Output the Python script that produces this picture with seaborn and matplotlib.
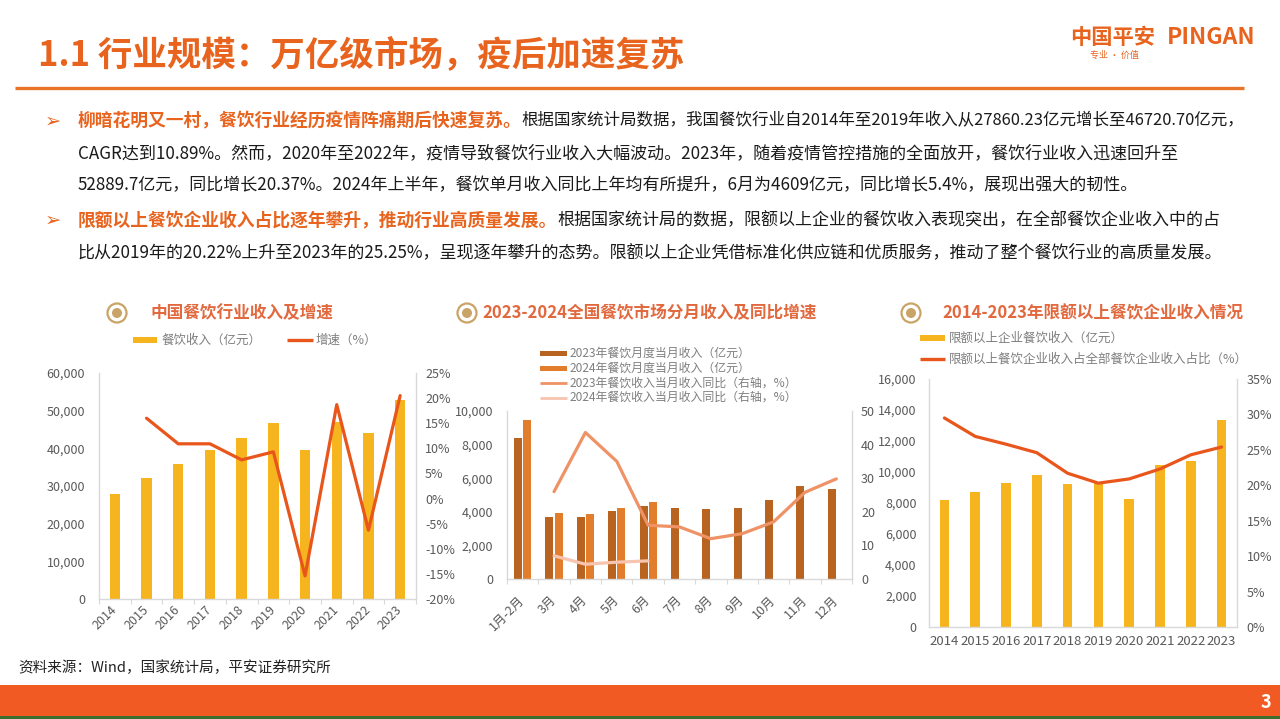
import numpy as np
import pandas as pd
import matplotlib
matplotlib.use('Agg')
import matplotlib.pyplot as plt
import seaborn as sns
from matplotlib.patches import Circle, Rectangle
from matplotlib.ticker import FuncFormatter, MultipleLocator

sns.set_theme(style='white')
plt.rcParams['font.family'] = ['Noto Sans CJK SC', 'DejaVu Sans']
plt.rcParams['axes.unicode_minus'] = False

# ---------------- data ----------------
years = ['2014', '2015', '2016', '2017', '2018', '2019', '2020', '2021', '2022', '2023']
revenue = [27860, 32124, 35799, 39644, 42716, 46721, 39527, 46895, 43941, 52890]
growth = [np.nan, 16.0, 10.9, 10.9, 7.7, 9.3, -15.4, 18.7, -6.3, 20.5]

months = ['1月-2月', '3月', '4月', '5月', '6月', '7月', '8月', '9月', '10月', '11月', '12月']
rev_2023 = [8417, 3673, 3720, 4024, 4372, 4229, 4183, 4235, 4732, 5556, 5350]
rev_2024 = [9457, 3924, 3889, 4222, 4609, np.nan, np.nan, np.nan, np.nan, np.nan, np.nan]
yoy_2023 = [np.nan, 26.0, 43.6, 35.0, 16.0, 15.5, 12.0, 13.5, 17.0, 25.8, 29.8]
yoy_2024 = [np.nan, 6.9, 4.4, 5.0, 5.4, np.nan, np.nan, np.nan, np.nan, np.nan, np.nan]

above_rev = [8215, 8688, 9269, 9785, 9247, 9350, 8258, 10430, 10688, 13376]
above_share = [29.5, 26.9, 25.8, 24.6, 21.7, 20.3, 20.9, 22.3, 24.3, 25.4]

# ---------------- style ----------------
W, H = 1280, 719
ORANGE = '#E8641E'
GOLD = '#F6B41E'
LINE_RED = '#E8561C'
C23 = '#B8631F'
C24 = '#E27D2C'
L23 = '#EF9266'
L24 = '#F7C4B0'
TITLE_C = '#E2683E'
ICON_C = '#C9A466'
GRID_C = '#D9D9D9'
TICK_C = '#595959'
LEG_C = '#7F7F7F'

fig = plt.figure(figsize=(W / 100, H / 100), dpi=100, facecolor='white')
bg = fig.add_axes([0, 0, 1, 1])
bg.set_xlim(0, W)
bg.set_ylim(H, 0)
bg.axis('off')
renderer = fig.canvas.get_renderer()


def rect(x0, y0, x1, y1):
    return [x0 / W, 1 - y1 / H, (x1 - x0) / W, (y1 - y0) / H]


# ---------------- header ----------------
bg.text(38, 55, '1.1 行业规模：万亿级市场，疫后加速复苏', fontsize=24.8, fontweight='bold',
        color=ORANGE, ha='left', va='center')
bg.plot([15, 1244], [88, 88], color='#E8742A', lw=2.4, solid_capstyle='butt')
bg.text(1070, 37, '中国平安', fontsize=15.3, fontweight='bold', color=ORANGE,
        ha='left', va='center')
bg.text(1167, 37, 'PINGAN', fontsize=16.5, fontweight='bold', color=ORANGE,
        ha='left', va='center')
bg.text(1090, 55, '专业 · 价值', fontsize=6.5, color=ORANGE, ha='left', va='center')

# ---------------- body text ----------------
BLACK = '#1A1A1A'


def rich_line(y, parts, x=78):
    cur = x
    for s, color, weight, size in parts:
        t = bg.text(cur, y, s, ha='left', va='center', fontsize=size, color=color,
                    fontweight=weight)
        bb = t.get_window_extent(renderer=renderer)
        cur = bg.transData.inverted().transform((bb.x1, bb.y0))[0]


OS, BS = 12.8, 12.25
bg.text(45, 121, '➢', fontsize=14, color=ORANGE, ha='left', va='center')
rich_line(121, [('柳暗花明又一村，餐饮行业经历疫情阵痛期后快速复苏。', ORANGE, 'bold', OS),
                ('根据国家统计局数据，我国餐饮行业自2014年至2019年收入从27860.23亿元增长至46720.70亿元，', BLACK, 'normal', 11.9)])
rich_line(153, [('CAGR达到10.89%。然而，2020年至2022年，疫情导致餐饮行业收入大幅波动。2023年，随着疫情管控措施的全面放开，餐饮行业收入迅速回升至', BLACK, 'normal', BS)])
rich_line(185, [('52889.7亿元，同比增长20.37%。2024年上半年，餐饮单月收入同比上年均有所提升，6月为4609亿元，同比增长5.4%，展现出强大的韧性。', BLACK, 'normal', BS)])
bg.text(45, 220, '➢', fontsize=14, color=ORANGE, ha='left', va='center')
rich_line(220, [('限额以上餐饮企业收入占比逐年攀升，推动行业高质量发展。', ORANGE, 'bold', OS),
                ('根据国家统计局的数据，限额以上企业的餐饮收入表现突出，在全部餐饮企业收入中的占', BLACK, 'normal', BS)])
rich_line(252, [('比从2019年的20.22%上升至2023年的25.25%，呈现逐年攀升的态势。限额以上企业凭借标准化供应链和优质服务，推动了整个餐饮行业的高质量发展。', BLACK, 'normal', BS)])


# ---------------- helpers ----------------
def chart_title(cx, tx, text):
    bg.add_patch(Circle((cx, 313), 9.5, facecolor='white', edgecolor=ICON_C, lw=1.6))
    bg.add_patch(Circle((cx, 313), 5.0, facecolor=ICON_C, edgecolor='none'))
    bg.text(tx, 313, text, fontsize=12, fontweight='bold', color=TITLE_C, ha='left', va='center')


def leg_bar(x0, x1, y, color, h=5.5):
    bg.add_patch(Rectangle((x0, y - h / 2), x1 - x0, h, facecolor=color, edgecolor='none'))


def leg_line(x0, x1, y, color, lw=2.2):
    bg.plot([x0, x1], [y, y], color=color, lw=lw, solid_capstyle='butt')


def leg_text(x, y, s, size=9):
    bg.text(x, y, s, fontsize=size, color=LEG_C, ha='left', va='center')


def style_axes(ax, ax2, n, lpad, rpad):
    ax.set_facecolor('none')
    for side in ['left', 'bottom', 'right']:
        ax.spines[side].set_visible(True)
        ax.spines[side].set_color(GRID_C)
        ax.spines[side].set_linewidth(1.0)
    ax.spines['top'].set_visible(False)
    for s in ax2.spines.values():
        s.set_visible(False)
    ax.tick_params(axis='y', length=0, pad=lpad, labelsize=9, labelcolor=TICK_C)
    ax2.tick_params(axis='y', length=0, pad=rpad, labelsize=9, labelcolor=TICK_C)
    ax.tick_params(axis='x', which='major', length=0, labelsize=9, labelcolor=TICK_C)
    ax.set_xticks(np.arange(-0.5, n, 1), minor=True)
    ax.tick_params(axis='x', which='minor', length=3.5, width=0.8, color=GRID_C,
                   direction='out', bottom=True)
    ax.set_xlim(-0.5, n - 0.5)
    ax.set_xlabel('')
    ax.set_ylabel('')
    ax2.set_xlabel('')
    ax2.set_ylabel('')
    ax.grid(False)
    ax2.grid(False)


thousands = FuncFormatter(lambda v, p: f'{v:,.0f}')
pct = FuncFormatter(lambda v, p: f'{v:.0f}%')

# ---------------- chart 1 ----------------
chart_title(117, 150, '中国餐饮行业收入及增速')
leg_bar(133, 157, 340, GOLD)
leg_text(162, 340, '餐饮收入（亿元）')
leg_line(287, 313, 340, LINE_RED, lw=2.4)
leg_text(316, 340, '增速（%）')

df1 = pd.DataFrame({'year': years, 'revenue': revenue, 'growth': growth})
ax1 = fig.add_axes(rect(99, 373, 416, 599))
sns.barplot(data=df1, x='year', y='revenue', order=years, color=GOLD, saturation=1,
            width=0.33, linewidth=0, ax=ax1)
ax1b = ax1.twinx()
sns.lineplot(x=np.arange(len(years)), y=df1['growth'], color=LINE_RED, lw=2.3, ax=ax1b)
ax1.set_ylim(0, 60000)
ax1.yaxis.set_major_locator(MultipleLocator(10000))
ax1.yaxis.set_major_formatter(thousands)
ax1b.set_ylim(-20, 25)
ax1b.yaxis.set_major_locator(MultipleLocator(5))
ax1b.yaxis.set_major_formatter(pct)
style_axes(ax1, ax1b, len(years), 10, 6.5)
ax1.tick_params(axis='x', which='major', pad=6)
plt.setp(ax1.get_xticklabels(), rotation=45, ha='right', va='center', rotation_mode='anchor')

# ---------------- chart 2 ----------------
chart_title(467, 482, '2023-2024全国餐饮市场分月收入及同比增速')
leg_bar(540, 567, 353.5, C23)
leg_text(570, 353.5, '2023年餐饮月度当月收入（亿元）', 8.6)
leg_bar(540, 567, 368.5, C24)
leg_text(570, 368.5, '2024年餐饮月度当月收入（亿元）', 8.6)
leg_line(540, 567, 383, L23, lw=2.0)
leg_text(570, 383, '2023年餐饮收入当月收入同比（右轴，%）', 8.6)
leg_line(540, 567, 397.5, L24, lw=2.0)
leg_text(570, 397.5, '2024年餐饮收入当月收入同比（右轴，%）', 8.6)

df2 = pd.concat([
    pd.DataFrame({'month': months, 'year': '2023', 'rev': rev_2023}),
    pd.DataFrame({'month': months, 'year': '2024', 'rev': rev_2024}),
]).dropna()
ax2 = fig.add_axes(rect(507, 411, 852, 579))
sns.barplot(data=df2, x='month', y='rev', hue='year', order=months, hue_order=['2023', '2024'],
            palette=[C23, C24], saturation=1, width=0.58, gap=0.12, linewidth=0,
            legend=False, ax=ax2)
ax2b = ax2.twinx()
xm = np.arange(len(months))
sns.lineplot(x=xm, y=yoy_2023, color=L23, lw=2.3, ax=ax2b)
sns.lineplot(x=xm, y=yoy_2024, color=L24, lw=2.3, ax=ax2b)
ax2.set_ylim(0, 10000)
ax2.yaxis.set_major_locator(MultipleLocator(2000))
ax2.yaxis.set_major_formatter(thousands)
ax2b.set_ylim(0, 50)
ax2b.yaxis.set_major_locator(MultipleLocator(10))
style_axes(ax2, ax2b, len(months), 10, 6.5)
ax2.tick_params(axis='x', which='major', pad=14)
plt.setp(ax2.get_xticklabels(), rotation=45, ha='right', va='center', rotation_mode='anchor')

# ---------------- chart 3 ----------------
chart_title(911, 942, '2014-2023年限额以上餐饮企业收入情况')
leg_bar(920, 945, 338, GOLD)
leg_text(949, 338, '限额以上企业餐饮收入（亿元）')
leg_line(920, 945, 359, LINE_RED, lw=2.4)
leg_text(949, 359, '限额以上餐饮企业收入占全部餐饮企业收入占比（%）')

df3 = pd.DataFrame({'year': years, 'rev': above_rev, 'share': above_share})
ax3 = fig.add_axes(rect(929, 379, 1237, 627))
sns.barplot(data=df3, x='year', y='rev', order=years, color=GOLD, saturation=1,
            width=0.31, linewidth=0, ax=ax3)
ax3b = ax3.twinx()
sns.lineplot(x=np.arange(len(years)), y=df3['share'], color=LINE_RED, lw=2.3, ax=ax3b)
ax3.set_ylim(0, 16000)
ax3.yaxis.set_major_locator(MultipleLocator(2000))
ax3.yaxis.set_major_formatter(thousands)
ax3b.set_ylim(0, 35)
ax3b.yaxis.set_major_locator(MultipleLocator(5))
ax3b.yaxis.set_major_formatter(pct)
style_axes(ax3, ax3b, len(years), 9, 7)
ax3.tick_params(axis='x', which='minor', length=0)
ax3.tick_params(axis='x', which='major', pad=6, labelsize=9.5)

for a in (ax1, ax2, ax3):
    a.set_xlim(-0.5, len(a.get_xticks()) - 0.5)

# ---------------- footer ----------------
bg.text(18, 668, '资料来源：Wind，国家统计局，平安证券研究所', fontsize=10.5, color='#222222',
        ha='left', va='center')
bg.add_patch(Rectangle((0, 685), W, 31, facecolor='#F15A22', edgecolor='none'))
bg.add_patch(Rectangle((0, 716), W, 3, facecolor='#3C6E2E', edgecolor='none'))
bg.text(1266, 702, '3', fontsize=13, fontweight='bold', color='white', ha='center', va='center')

fig.savefig('out.png', dpi=100, facecolor='white')
